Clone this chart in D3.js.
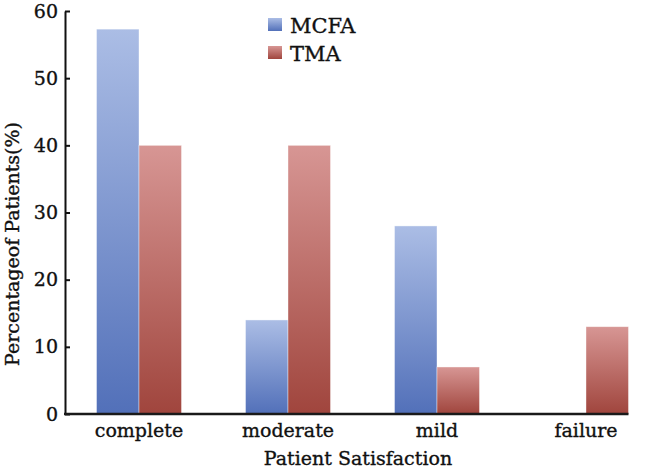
<!DOCTYPE html>
<html>
<head>
<meta charset="utf-8">
<script src="https://cdn.jsdelivr.net/npm/d3@7"></script>
<style>
  html, body { margin: 0; padding: 0; background: #fff; }
  svg { display: block; }
  text { font-family: "DejaVu Serif", "Liberation Serif", serif; fill: #111; stroke: #111; stroke-width: 0.35px; }
</style>
</head>
<body>
<svg id="chart" width="653" height="469"></svg>
<script>
const categories = ["complete", "moderate", "mild", "failure"];
const seriesNames = ["MCFA", "TMA"];
const mcfaValues = [57.3, 14, 28, 0];
const tmaValues = [40, 40, 7, 13];
const yTicks = [0, 10, 20, 30, 40, 50, 60];
const xTitle = "Patient Satisfaction";
const yTitle = "Percentageof Patients(%)";

const svg = d3.select("#chart");

const x = d3.scaleBand()
  .domain(categories)
  .range([64.5, 660.5])
  .paddingInner(0.4295)
  .paddingOuter(0.2148)
  .align(0.5);

const xs = d3.scaleBand().domain(seriesNames).range([0, x.bandwidth()]).padding(0);

const y = d3.scaleLinear().domain([0, 60]).range([414, 11]);

const axisX0 = 65;

// gradients
const defs = svg.append("defs");
const gradDefs = [
  { id: "g-MCFA", top: "#abbde5", bottom: "#5270b9" },
  { id: "g-TMA", top: "#d79694", bottom: "#a0453d" }
];
gradDefs.forEach(g => {
  const lg = defs.append("linearGradient").attr("id", g.id)
    .attr("x1", 0).attr("y1", 0).attr("x2", 0).attr("y2", 1);
  lg.append("stop").attr("offset", "0%").attr("stop-color", g.top);
  lg.append("stop").attr("offset", "100%").attr("stop-color", g.bottom);
});

const rows = categories.map((c, i) => ({
  category: c,
  values: [
    { series: "MCFA", value: mcfaValues[i] },
    { series: "TMA", value: tmaValues[i] }
  ]
}));

// bars
const groups = svg.append("g").selectAll("g").data(rows).join("g")
  .attr("transform", d => `translate(${x(d.category)},0)`);

groups.selectAll("rect").data(d => d.values.filter(v => v.value > 0)).join("rect")
  .attr("x", d => xs(d.series))
  .attr("width", xs.bandwidth())
  .attr("y", d => y(d.value))
  .attr("height", d => y(0) - y(d.value))
  .attr("fill", d => `url(#g-${d.series})`)
  .attr("stroke", "rgba(255,255,255,0.5)")
  .attr("stroke-width", 0.8);

// y axis
const yAxis = svg.append("g")
  .attr("transform", `translate(${axisX0},0)`)
  .call(d3.axisLeft(y).tickValues(yTicks).tickSizeInner(-5).tickSizeOuter(0).tickPadding(7).tickFormat(d3.format("d")));
yAxis.select(".domain").attr("stroke", "#111").attr("stroke-width", 2);
yAxis.selectAll(".tick line").attr("stroke", "#111").attr("stroke-width", 2);
yAxis.selectAll(".tick text").attr("font-size", 19).attr("font-family", "DejaVu Serif").attr("fill", "#111");

// x axis
const lastEnd = x(categories[categories.length - 1]) + x.bandwidth();
const xAxis = svg.append("g")
  .attr("transform", `translate(0,${y(0)})`)
  .call(d3.axisBottom(x).tickSize(0).tickPadding(10));
xAxis.select(".domain").remove();
xAxis.selectAll(".tick text").attr("font-size", 19).attr("font-family", "DejaVu Serif").attr("fill", "#111");
svg.append("line")
  .attr("x1", axisX0 - 1).attr("x2", lastEnd)
  .attr("y1", y(0)).attr("y2", y(0))
  .attr("stroke", "#1a1a1a").attr("stroke-width", 2.5);

// axis titles
svg.append("text")
  .attr("x", 358).attr("y", 465)
  .attr("text-anchor", "middle")
  .attr("font-size", 19)
  .text(xTitle);

svg.append("text")
  .attr("transform", "translate(19,244) rotate(-90)")
  .attr("text-anchor", "middle")
  .attr("font-size", 19)
  .text(yTitle);

// legend
const legend = svg.append("g").attr("transform", "translate(268,18)");
const li = legend.selectAll("g").data(seriesNames).join("g")
  .attr("transform", (d, i) => `translate(0,${i * 28})`);
li.append("rect").attr("width", 14).attr("height", 13)
  .attr("fill", d => `url(#g-${d})`);
li.append("text").attr("x", 22).attr("y", 15).attr("font-size", 21).text(d => d);
</script>
</body>
</html>
